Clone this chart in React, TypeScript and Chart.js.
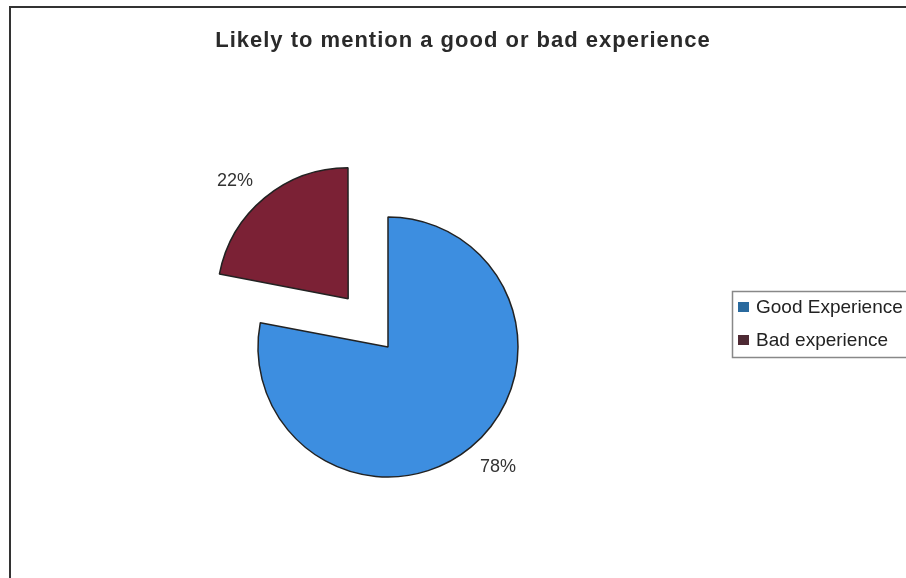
import React, { useEffect, useRef } from "react";
import { Chart, registerables } from "chart.js";

Chart.register(...registerables);

const TITLE = "Likely to mention a good or bad experience";
const CATEGORIES = ["Good Experience", "Bad experience"];
const VALUES = [78, 22];
const VALUE_LABELS = ["78%", "22%"];
const COLORS = ["#3d8ee0", "#7b2135"];
const LEGEND_COLORS = ["#2a6a9e", "#4e2a34"];
const OFFSETS = [0, 250];

const decorPlugin = {
  id: "decor",
  beforeDraw(chart: any) {
    const ctx = chart.ctx;
    ctx.save();
    ctx.fillStyle = "#ffffff";
    ctx.fillRect(0, 0, chart.width, chart.height);
    ctx.strokeStyle = "#333333";
    ctx.lineWidth = 2;
    ctx.beginPath();
    ctx.moveTo(10, chart.height + 2);
    ctx.lineTo(10, 7);
    ctx.lineTo(chart.width + 2, 7);
    ctx.stroke();
    ctx.restore();
  },
  afterDraw(chart: any) {
    const ctx = chart.ctx;
    ctx.save();
    // title
    ctx.fillStyle = "#2a2a2a";
    ctx.font = "bold 22px 'Liberation Sans', Arial, sans-serif";
    (ctx as any).letterSpacing = "1px";
    ctx.textAlign = "left";
    ctx.textBaseline = "alphabetic";
    const w = ctx.measureText(TITLE).width;
    ctx.fillText(TITLE, 463 - w / 2, 47);
    (ctx as any).letterSpacing = "0px";

    // value labels
    ctx.textAlign = "center";
    ctx.textBaseline = "middle";
    ctx.font = "18px 'Liberation Sans', Arial, sans-serif";
    ctx.fillStyle = "#333333";
    ctx.fillText(VALUE_LABELS[0], 498, 467);
    ctx.fillText(VALUE_LABELS[1], 235, 181);

    // legend
    ctx.strokeStyle = "#888888";
    ctx.lineWidth = 1.5;
    ctx.strokeRect(732.5, 291.5, 200, 66);
    ctx.textAlign = "left";
    ctx.font = "19px 'Liberation Sans', Arial, sans-serif";
    const ys = [307, 340];
    CATEGORIES.forEach((c, i) => {
      ctx.fillStyle = LEGEND_COLORS[i];
      ctx.fillRect(738, ys[i] - 5, 11, 10);
      ctx.fillStyle = "#222222";
      ctx.fillText(c, 756, ys[i] + 1);
    });
    ctx.restore();
  },
};

export default function App() {
  const ref = useRef<HTMLCanvasElement>(null);
  useEffect(() => {
    document.body.style.margin = "0";
    const chart = new Chart(ref.current!, {
      type: "pie",
      data: {
        labels: CATEGORIES,
        datasets: [
          {
            data: VALUES,
            backgroundColor: COLORS,
            borderColor: "#222222",
            borderWidth: 1.5,
            offset: OFFSETS,
          },
        ],
      },
      options: {
        animation: false,
        responsive: false,
        radius: 130,
        layout: { padding: { left: 0, right: 130, top: 116, bottom: 0 } },
        plugins: {
          legend: { display: false },
          title: { display: false },
          tooltip: { enabled: false },
        },
      },
      plugins: [decorPlugin],
    });
    return () => chart.destroy();
  }, []);
  return (
    <div style={{ width: 906, height: 578 }}>
      <canvas ref={ref} width={906} height={578} />
    </div>
  );
}
